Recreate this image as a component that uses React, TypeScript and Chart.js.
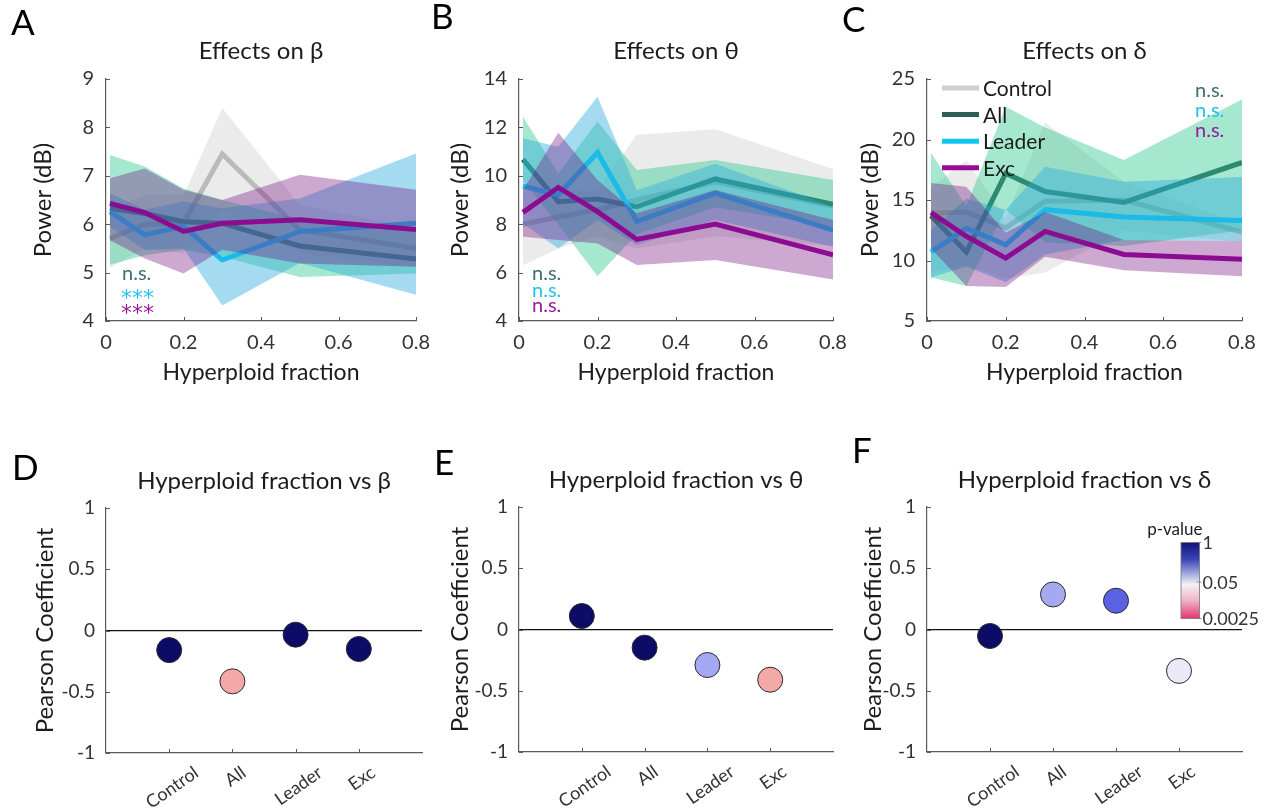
import React, { useEffect, useRef } from "react";
import { Chart, registerables } from "chart.js";

Chart.register(...registerables);

const FONT = "Lato, 'Open Sans', 'DejaVu Sans', sans-serif";
Chart.defaults.font.family = FONT;

// ---------------- data ----------------
const fractions = [0.01, 0.1, 0.2, 0.3, 0.5, 0.8];
const groups = ["Control", "All", "Leader", "Exc"];

// Panel A: beta power (dB)
const betaControl = [5.7, 6.0, 6.02, 7.45, 5.88, 5.5];
const betaControlHi = [6.3, 6.6, 6.6, 8.4, 6.4, 5.9];
const betaControlLo = [5.1, 5.5, 5.4, 6.3, 5.4, 5.1];
const betaAll = [6.33, 6.22, 6.05, 6.02, 5.55, 5.28];
const betaAllHi = [7.43, 7.19, 6.74, 6.5, 6.1, 5.85];
const betaAllLo = [5.16, 5.36, 5.47, 5.33, 4.91, 4.98];
const betaLeader = [6.26, 5.78, 5.96, 5.26, 5.85, 6.02];
const betaLeaderHi = [6.64, 6.3, 6.47, 6.33, 6.53, 7.46];
const betaLeaderLo = [5.95, 5.47, 5.5, 4.32, 5.2, 4.54];
const betaExc = [6.43, 6.24, 5.85, 6.02, 6.09, 5.89];
const betaExcHi = [6.95, 7.15, 6.71, 6.5, 7.02, 6.71];
const betaExcLo = [5.67, 5.29, 4.98, 5.47, 5.19, 5.12];

// Panel B: theta power (dB)
const thetaControl = [8.0, 8.3, 8.6, 9.0, 9.75, 8.75];
const thetaControlHi = [9.5, 9.3, 9.4, 11.7, 11.92, 10.28];
const thetaControlLo = [6.3, 7.0, 7.5, 7.0, 7.5, 7.1];
const thetaAll = [10.68, 8.93, 9.04, 8.72, 9.87, 8.82];
const thetaAllHi = [12.44, 10.1, 12.24, 10.24, 10.65, 9.83];
const thetaAllLo = [9.8, 8.0, 5.85, 7.6, 8.7, 7.9];
const thetaLeader = [9.58, 9.21, 10.96, 8.11, 9.28, 7.76];
const thetaLeaderHi = [11.55, 11.2, 13.27, 9.4, 10.5, 8.72];
const thetaLeaderLo = [8.03, 7.0, 8.17, 7.14, 8.17, 7.07];
const thetaExc = [8.49, 9.52, 8.52, 7.37, 8.01, 6.73];
const thetaExcHi = [9.41, 11.78, 9.83, 8.45, 9.41, 8.17];
const thetaExcLo = [7.48, 7.35, 7.2, 6.31, 6.52, 5.72];

// Panel C: delta power (dB)
const deltaControl = [13.9, 14.0, 12.7, 14.9, 15.0, 12.35];
const deltaControlHi = [16.0, 18.3, 13.5, 21.4, 16.5, 13.0];
const deltaControlLo = [9.0, 9.7, 8.5, 9.0, 12.5, 11.5];
const deltaAll = [13.7, 10.7, 17.2, 15.7, 14.8, 18.1];
const deltaAllHi = [18.9, 14.5, 22.7, 21.0, 18.3, 23.3];
const deltaAllLo = [8.6, 7.9, 14.2, 11.5, 11.2, 12.5];
const deltaLeader = [10.7, 12.66, 11.3, 14.2, 13.6, 13.3];
const deltaLeaderHi = [12.5, 15.1, 14.2, 17.75, 16.5, 16.9];
const deltaLeaderLo = [8.6, 9.5, 8.2, 10.5, 11.7, 11.6];
const deltaExc = [13.95, 12.0, 10.2, 12.4, 10.5, 10.1];
const deltaExcHi = [16.4, 16.1, 12.3, 14.0, 11.7, 11.6];
const deltaExcLo = [11.0, 7.9, 7.8, 10.3, 9.2, 8.7];

// Significance annotations (All, Leader, Exc)
const sigBeta = ["n.s.", "***", "***"];
const sigTheta = ["n.s.", "n.s.", "n.s."];
const sigDelta = ["n.s.", "n.s.", "n.s."];

// Panels D-F: Pearson coefficients
const pearsonBeta = [-0.16, -0.415, -0.034, -0.151];
const pearsonTheta = [0.11, -0.148, -0.29, -0.41];
const pearsonDelta = [-0.053, 0.286, 0.235, -0.338];
const pValueTickLabels = ["1", "0.05", "0.0025"];

// ---------------- styles ----------------
const lineColors = ["#b9b9b9", "#2e5d5a", "#12c6f3", "#990a99"];
const legendColors = ["#cfcfcf", "#2e5d5a", "#12c6f3", "#990a99"];
const bandColors = [
  "rgba(190,190,190,0.30)",
  "rgba(40,200,140,0.42)",
  "rgba(40,170,220,0.42)",
  "rgba(117,17,130,0.36)",
];
const sigColors = ["#3f6e6e", "#1fc3ee", "#9a1a9a"];
const NAVY = "#0c0c66";
const PINK = "#f4a9a9";
const betaPointColors = [NAVY, PINK, NAVY, NAVY];
const thetaPointColors = [NAVY, NAVY, "#a3a8f2", PINK];
const deltaPointColors = [NAVY, "#a6a9f0", "#5b61e3", "#e9e9f8"];
const AXIS_COLOR = "#5a5a5a";
const TICK_COLOR = "#333333";
const TEXT_COLOR = "#1c1c1c";

// ---------------- helpers ----------------
function innerTicks(chart: any) {
  const ctx = chart.ctx;
  const a = chart.chartArea;
  const xs = chart.scales.x;
  const ys = chart.scales.y;
  ctx.save();
  ctx.strokeStyle = AXIS_COLOR;
  ctx.lineWidth = 1;
  for (const t of xs.ticks) {
    const px = Math.round(xs.getPixelForValue(t.value)) + 0.5;
    ctx.beginPath();
    ctx.moveTo(px, a.bottom);
    ctx.lineTo(px, a.bottom - 4);
    ctx.stroke();
  }
  for (const t of ys.ticks) {
    const py = Math.round(ys.getPixelForValue(t.value)) + 0.5;
    ctx.beginPath();
    ctx.moveTo(a.left, py);
    ctx.lineTo(a.left + 4, py);
    ctx.stroke();
  }
  ctx.restore();
}

function drawLetter(ctx: any, letter: string, x: number, y: number) {
  ctx.save();
  ctx.fillStyle = "#000";
  ctx.font = `35px ${FONT}`;
  ctx.textAlign = "left";
  ctx.textBaseline = "alphabetic";
  ctx.fillText(letter, x, y);
  ctx.restore();
}

interface TopSpec {
  letter: string;
  title: string;
  series: number[][][]; // [group][mean, hi, lo]
  yMin: number;
  yMax: number;
  yStep: number;
  sig: string[];
  canvasLeft: number;
  canvasWidth: number;
  chartLeft: number;
  chartRight: number;
  yTitleX: number;
  letterX: number;
  letterY: number;
  sigX: number;
  sigY: number[];
  legend: boolean;
}

const TOP_H = 400;
const TOP_CHART_TOP = 79;
const TOP_CHART_BOTTOM = 321;
const TITLE_SIZE = 24;
const TITLE_LH = TITLE_SIZE * 1.2;

function buildTopConfig(s: TopSpec): any {
  const datasets: any[] = [];
  groups.forEach((g, gi) => {
    const [mean, hi, lo] = s.series[gi];
    datasets.push({
      label: g,
      data: fractions.map((x, i) => ({ x, y: mean[i] })),
      borderColor: lineColors[gi],
      backgroundColor: lineColors[gi],
      borderWidth: 5,
      pointRadius: 0,
      fill: false,
      tension: 0,
    });
    datasets.push({
      label: g + " upper",
      data: fractions.map((x, i) => ({ x, y: hi[i] })),
      borderColor: "rgba(0,0,0,0)",
      borderWidth: 0,
      pointRadius: 0,
      backgroundColor: bandColors[gi],
      fill: "+1",
      tension: 0,
    });
    datasets.push({
      label: g + " lower",
      data: fractions.map((x, i) => ({ x, y: lo[i] })),
      borderColor: "rgba(0,0,0,0)",
      borderWidth: 0,
      pointRadius: 0,
      fill: false,
      tension: 0,
    });
  });
  datasets.forEach((d, i) => (d.order = datasets.length - i));

  const decor = {
    id: "decor" + s.letter,
    afterDraw(chart: any) {
      const ctx = chart.ctx;
      innerTicks(chart);
      drawLetter(ctx, s.letter, s.letterX, s.letterY);
      ctx.save();
      ctx.textAlign = "left";
      ctx.textBaseline = "alphabetic";
      s.sig.forEach((txt, i) => {
        ctx.fillStyle = sigColors[i];
        if (txt === "***") {
          ctx.font = `22px 'DejaVu Sans', ${FONT}`;
          ctx.fillText(txt, s.sigX - 1, s.sigY[i] + 8);
        } else {
          ctx.font = `20px ${FONT}`;
          ctx.fillText(txt, s.sigX, s.sigY[i]);
        }
      });
      if (s.legend) {
        const a = chart.chartArea;
        const lx = a.left + 15;
        const ys0 = a.top + 9;
        ctx.font = `21px ${FONT}`;
        groups.forEach((g, gi) => {
          const y = ys0 + gi * 26.6;
          ctx.strokeStyle = legendColors[gi];
          ctx.lineWidth = 5;
          ctx.beginPath();
          ctx.moveTo(lx, y);
          ctx.lineTo(lx + 37, y);
          ctx.stroke();
          ctx.fillStyle = TEXT_COLOR;
          ctx.fillText(g, lx + 41, y + 8);
        });
      }
      ctx.restore();
    },
  };

  return {
    type: "line",
    data: { datasets },
    plugins: [decor],
    options: {
      responsive: false,
      animation: false,
      events: [],
      layout: { padding: { left: 0, right: s.canvasWidth - s.chartRight, top: 0, bottom: 0 } },
      plugins: {
        legend: { display: false },
        tooltip: { enabled: false },
        title: {
          display: true,
          fullSize: false,
          text: s.title,
          color: TEXT_COLOR,
          font: { size: TITLE_SIZE, weight: "normal" },
          padding: { top: 51 - TITLE_LH / 2, bottom: TOP_CHART_TOP - (51 - TITLE_LH / 2) - TITLE_LH },
        },
      },
      scales: {
        x: {
          type: "linear",
          min: 0,
          max: 0.8,
          grid: { display: false, drawTicks: false },
          border: { display: true, color: AXIS_COLOR, width: 1.2 },
          ticks: { stepSize: 0.2, font: { size: 20 }, color: TICK_COLOR, padding: 10, maxRotation: 0 },
          title: {
            display: true,
            text: "Hyperploid fraction",
            color: TEXT_COLOR,
            font: { size: 23 },
            padding: { top: 0, bottom: TOP_H - 373 - 13.8 },
          },
          afterFit: (sc: any) => {
            sc.height = TOP_H - TOP_CHART_BOTTOM;
          },
        },
        y: {
          type: "linear",
          min: s.yMin,
          max: s.yMax,
          grid: { display: false, drawTicks: false },
          border: { display: true, color: AXIS_COLOR, width: 1.2 },
          ticks: { stepSize: s.yStep, font: { size: 20 }, color: TICK_COLOR, padding: 12 },
          title: {
            display: true,
            text: "Power (dB)",
            color: TEXT_COLOR,
            font: { size: 24 },
            padding: { top: s.yTitleX - 14.4, bottom: 0 },
          },
          afterFit: (sc: any) => {
            sc.width = s.chartLeft;
          },
        },
      },
    },
  };
}

interface BottomSpec {
  letter: string;
  title: string;
  values: number[];
  colors: string[];
  canvasLeft: number;
  canvasWidth: number;
  chartLeft: number;
  chartRight: number;
  chartTop: number;
  chartBottom: number;
  titleY: number;
  yTitleX: number;
  letterX: number;
  letterY: number;
  colorbar: boolean;
}

const BOT_H = 381;

function buildBottomConfig(s: BottomSpec): any {
  const decor = {
    id: "decor" + s.letter,
    afterDraw(chart: any) {
      const ctx = chart.ctx;
      const a = chart.chartArea;
      const xs = chart.scales.x;
      innerTicks(chart);
      drawLetter(ctx, s.letter, s.letterX, s.letterY);
      // rotated category labels
      ctx.save();
      ctx.font = `18px ${FONT}`;
      ctx.fillStyle = TICK_COLOR;
      ctx.textAlign = "center";
      ctx.textBaseline = "middle";
      const ang = (35 * Math.PI) / 180;
      groups.forEach((g, i) => {
        const px = xs.getPixelForValue(i + 1);
        const w = ctx.measureText(g).width;
        const ext = (w * Math.sin(ang) + 14 * Math.cos(ang)) / 2;
        ctx.save();
        ctx.translate(px + 3, a.bottom + 12 + ext);
        ctx.rotate(-ang);
        ctx.fillText(g, 0, 0);
        ctx.restore();
      });
      ctx.restore();
      if (s.colorbar) {
        const bx = a.right - 61;
        const by = a.top + 35.5;
        const bw = 18.5;
        const bh = 76;
        const grad = ctx.createLinearGradient(0, by, 0, by + bh);
        grad.addColorStop(0, "#13137a");
        grad.addColorStop(0.22, "#3a44b4");
        grad.addColorStop(0.4, "#9da3dc");
        grad.addColorStop(0.55, "#f3f1f5");
        grad.addColorStop(0.75, "#f0b9cb");
        grad.addColorStop(1, "#e2366c");
        ctx.save();
        ctx.fillStyle = grad;
        ctx.fillRect(bx, by, bw, bh);
        ctx.strokeStyle = "#777";
        ctx.lineWidth = 0.8;
        ctx.strokeRect(bx, by, bw, bh);
        const tickFr = [0, 0.52, 1];
        ctx.font = `18px ${FONT}`;
        ctx.fillStyle = TICK_COLOR;
        ctx.textAlign = "left";
        ctx.textBaseline = "middle";
        pValueTickLabels.forEach((lab, i) => {
          const ty = by + tickFr[i] * bh;
          ctx.beginPath();
          ctx.moveTo(bx + bw - 3, ty);
          ctx.lineTo(bx + bw + 2, ty);
          ctx.stroke();
          ctx.fillText(lab, bx + bw + 3, ty + 1);
        });
        ctx.font = `17px ${FONT}`;
        ctx.fillStyle = TEXT_COLOR;
        ctx.textAlign = "right";
        ctx.textBaseline = "alphabetic";
        ctx.fillText("p-value", bx + bw + 3, by - 8);
        ctx.restore();
      }
    },
  };

  return {
    type: "scatter",
    data: {
      datasets: [
        {
          label: "Pearson coefficient",
          data: groups.map((g, i) => ({ x: i + 1, y: s.values[i] })),
          pointRadius: 12.5,
          pointBackgroundColor: s.colors,
          pointBorderColor: "#2a2a2a",
          pointBorderWidth: 1,
          clip: false,
        },
      ],
    },
    plugins: [decor],
    options: {
      responsive: false,
      animation: false,
      events: [],
      layout: { padding: { left: 0, right: s.canvasWidth - s.chartRight, top: 0, bottom: 0 } },
      plugins: {
        legend: { display: false },
        tooltip: { enabled: false },
        title: {
          display: true,
          fullSize: false,
          text: s.title,
          color: TEXT_COLOR,
          font: { size: TITLE_SIZE, weight: "normal" },
          padding: {
            top: s.titleY - TITLE_LH / 2,
            bottom: s.chartTop - (s.titleY - TITLE_LH / 2) - TITLE_LH,
          },
        },
      },
      scales: {
        x: {
          type: "linear",
          min: 0,
          max: 5,
          grid: { display: false, drawTicks: false },
          border: { display: true, color: AXIS_COLOR, width: 1.2 },
          ticks: { display: false },
          afterBuildTicks: (sc: any) => {
            sc.ticks = groups.map((g, i) => ({ value: i + 1 }));
          },
          afterFit: (sc: any) => {
            sc.height = BOT_H - s.chartBottom;
          },
        },
        y: {
          type: "linear",
          min: -1,
          max: 1,
          grid: {
            drawTicks: false,
            lineWidth: 1.3,
            color: (c: any) => (c.tick && c.tick.value === 0 ? "#111111" : "rgba(0,0,0,0)"),
          },
          border: { display: true, color: AXIS_COLOR, width: 1.2 },
          ticks: {
            stepSize: 0.5,
            font: { size: 19 },
            color: TICK_COLOR,
            padding: 11,
            callback: (v: any) => String(Number(v)),
          },
          title: {
            display: true,
            text: "Pearson Coefficient",
            color: TEXT_COLOR,
            font: { size: 24 },
            padding: { top: s.yTitleX - 14.4, bottom: 0 },
          },
          afterFit: (sc: any) => {
            sc.width = s.chartLeft;
          },
        },
      },
    },
  };
}

// ---------------- components ----------------
function ChartBox(props: { left: number; top: number; width: number; height: number; build: () => any }) {
  const ref = useRef<HTMLCanvasElement>(null);
  useEffect(() => {
    const chart = new Chart(ref.current as HTMLCanvasElement, props.build());
    return () => chart.destroy();
  }, []);
  return (
    <canvas
      ref={ref}
      width={props.width}
      height={props.height}
      style={{ position: "absolute", left: props.left, top: props.top, width: props.width, height: props.height }}
    />
  );
}

const topSpecs: TopSpec[] = [
  {
    letter: "A",
    title: "Effects on β",
    series: [
      [betaControl, betaControlHi, betaControlLo],
      [betaAll, betaAllHi, betaAllLo],
      [betaLeader, betaLeaderHi, betaLeaderLo],
      [betaExc, betaExcHi, betaExcLo],
    ],
    yMin: 4,
    yMax: 9,
    yStep: 1,
    sig: sigBeta,
    canvasLeft: 0,
    canvasWidth: 440,
    chartLeft: 106,
    chartRight: 421,
    yTitleX: 43,
    letterX: 11,
    letterY: 35,
    sigX: 122,
    sigY: [280, 297, 312],
    legend: false,
  },
  {
    letter: "B",
    title: "Effects on θ",
    series: [
      [thetaControl, thetaControlHi, thetaControlLo],
      [thetaAll, thetaAllHi, thetaAllLo],
      [thetaLeader, thetaLeaderHi, thetaLeaderLo],
      [thetaExc, thetaExcHi, thetaExcLo],
    ],
    yMin: 4,
    yMax: 14,
    yStep: 2,
    sig: sigTheta,
    canvasLeft: 420,
    canvasWidth: 440,
    chartLeft: 99,
    chartRight: 413,
    yTitleX: 40,
    letterX: 11,
    letterY: 29,
    sigX: 112,
    sigY: [280, 297, 312],
    legend: false,
  },
  {
    letter: "C",
    title: "Effects on δ",
    series: [
      [deltaControl, deltaControlHi, deltaControlLo],
      [deltaAll, deltaAllHi, deltaAllLo],
      [deltaLeader, deltaLeaderHi, deltaLeaderLo],
      [deltaExc, deltaExcHi, deltaExcLo],
    ],
    yMin: 5,
    yMax: 25,
    yStep: 5,
    sig: sigDelta,
    canvasLeft: 840,
    canvasWidth: 430,
    chartLeft: 87,
    chartRight: 402,
    yTitleX: 30,
    letterX: 2,
    letterY: 32,
    sigX: 355,
    sigY: [97, 117, 137],
    legend: true,
  },
];

const bottomSpecs: BottomSpec[] = [
  {
    letter: "D",
    title: "Hyperploid fraction vs β",
    values: pearsonBeta,
    colors: betaPointColors,
    canvasLeft: 0,
    canvasWidth: 440,
    chartLeft: 106,
    chartRight: 422,
    chartTop: 78,
    chartBottom: 323,
    titleY: 51,
    yTitleX: 45,
    letterX: 12,
    letterY: 50,
    colorbar: false,
  },
  {
    letter: "E",
    title: "Hyperploid fraction vs θ",
    values: pearsonTheta,
    colors: thetaPointColors,
    canvasLeft: 420,
    canvasWidth: 440,
    chartLeft: 99,
    chartRight: 413,
    chartTop: 77,
    chartBottom: 322,
    titleY: 50,
    yTitleX: 40,
    letterX: 14,
    letterY: 45,
    colorbar: false,
  },
  {
    letter: "F",
    title: "Hyperploid fraction vs δ",
    values: pearsonDelta,
    colors: deltaPointColors,
    canvasLeft: 840,
    canvasWidth: 430,
    chartLeft: 87,
    chartRight: 402,
    chartTop: 77,
    chartBottom: 322,
    titleY: 50,
    yTitleX: 33,
    letterX: 12,
    letterY: 33,
    colorbar: true,
  },
];

export default function App() {
  return (
    <div
      style={{
        position: "fixed",
        left: 0,
        top: 0,
        width: 1270,
        height: 811,
        background: "#ffffff",
        overflow: "hidden",
      }}
    >
      {topSpecs.map((s) => (
        <ChartBox key={s.letter} left={s.canvasLeft} top={0} width={s.canvasWidth} height={TOP_H} build={() => buildTopConfig(s)} />
      ))}
      {bottomSpecs.map((s) => (
        <ChartBox key={s.letter} left={s.canvasLeft} top={430} width={s.canvasWidth} height={BOT_H} build={() => buildBottomConfig(s)} />
      ))}
    </div>
  );
}
